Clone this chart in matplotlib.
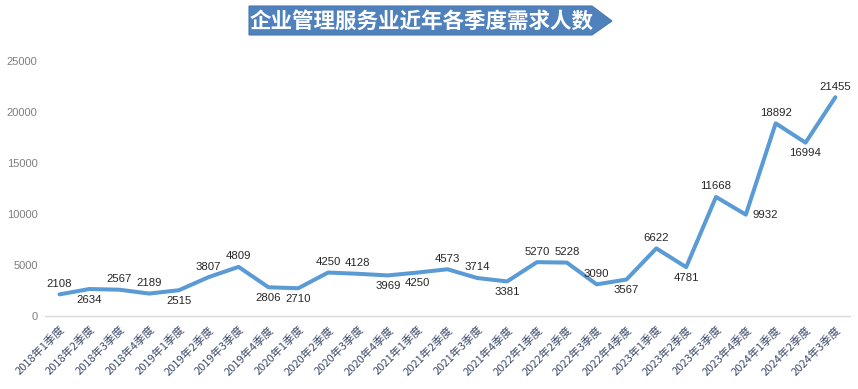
import matplotlib
matplotlib.use('Agg')
import matplotlib.pyplot as plt
from matplotlib.patches import Polygon
from matplotlib.transforms import ScaledTranslation

plt.rcParams['font.family'] = ['Noto Sans CJK SC', 'DejaVu Sans']

# 各季度数据
quarters = [f"{y}年{q}季度" for y in range(2018, 2025) for q in range(1, 5)][:27]
values = [2108, 2634, 2567, 2189, 2515, 3807, 4809, 2806, 2710, 4250,
          4128, 3969, 4250, 4573, 3714, 3381, 5270, 5228, 3090, 3567,
          6622, 4781, 11668, 9932, 18892, 16994, 21455]
# 标签位置: 't' 上方, 'b' 下方, 'r' 右侧
label_side = ['t', 'b', 't', 't', 'b', 't', 't', 'b', 'b', 't', 't', 'b', 'b', 't',
              't', 'b', 't', 't', 't', 'b', 't', 'b', 't', 'r', 't', 'b', 't']
yticks = [0, 5000, 10000, 15000, 20000, 25000]
title = "企业管理服务业近年各季度需求人数"

fig = plt.figure(figsize=(8.58, 3.89), dpi=100)
ax = fig.add_axes([0.052, 0.188, 0.939, 0.655])

x = list(range(len(values)))
ax.plot(x, values, color='#5B9BD5', linewidth=2.9, solid_joinstyle='round',
        solid_capstyle='round')

num_font = ['Liberation Sans', 'DejaVu Sans']
for xi, v, s in zip(x, values, label_side):
    if s == 't':
        off, ha, va = (0, 4), 'center', 'bottom'
    elif s == 'b':
        off, ha, va = (0, -4), 'center', 'top'
    else:
        off, ha, va = (5, 0), 'left', 'center'
    ax.annotate(str(v), (xi, v), xytext=off, textcoords='offset points',
                ha=ha, va=va, fontsize=8.2, color='#262626', family=num_font)

ax.set_xlim(-0.5, len(values) - 0.5)
ax.set_ylim(0, 25000)
ax.set_yticks(yticks)
ax.set_yticklabels([str(t) for t in yticks], color='#7F7F7F', fontsize=8,
                   family=num_font)
ax.set_xticks(x)
ax.set_xticklabels(quarters, rotation=45, ha='right', rotation_mode='anchor',
                   fontsize=8, color='#3C4A6A')
shift = ScaledTranslation(6 / 100, -4 / 100, fig.dpi_scale_trans)
for lbl in ax.get_xticklabels():
    lbl.set_transform(lbl.get_transform() + shift)
ax.tick_params(axis='both', length=0, pad=6)
ax.tick_params(axis='y', pad=5)
for sp in ['top', 'right', 'left']:
    ax.spines[sp].set_visible(False)
ax.spines['bottom'].set_color('#D9D9D9')
ax.spines['bottom'].set_linewidth(1)

# 标题箭头背景
W, H = 858, 389
pts = [(249, 6), (592, 6), (612, 21), (592, 35), (249, 35)]
banner = Polygon([(px / W, 1 - py / H) for px, py in pts], closed=True,
                 transform=fig.transFigure, facecolor='#4F81BD',
                 edgecolor='#4A76B0', linewidth=0.8)
fig.patches.append(banner)
fig.text(422 / W, 1 - 21 / H, title, ha='center', va='center', color='white',
         fontsize=15.5, fontweight='bold')

fig.savefig('out.png', dpi=100, facecolor='white')
